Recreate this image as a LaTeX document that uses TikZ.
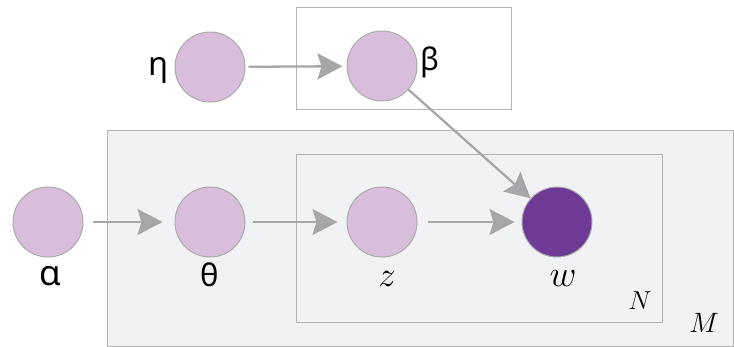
\documentclass[tikz,border=0pt]{standalone}
\usepackage{fix-cm}
\usepackage{fontspec}
\newfontfamily\greekfont{Noto Sans}
\usetikzlibrary{arrows.meta}
\definecolor{latentfill}{HTML}{D9BEDB}
\definecolor{observedfill}{HTML}{6E3A96}
\definecolor{nodeedge}{HTML}{AAAAAA}
\definecolor{edgegray}{HTML}{A7A7A9}
\definecolor{platefill}{HTML}{F1F2F4}
\definecolor{plateedge}{HTML}{B4B4B4}
\tikzset{
  latent/.style={circle, draw=nodeedge, line width=1pt, fill=latentfill, minimum size=70pt, inner sep=0pt},
  observed/.style={latent, fill=observedfill},
  plate/.style={draw=plateedge, line width=1pt},
  edge/.style={draw=edgegray, line width=2.3pt, -{Stealth[length=25pt, width=26pt, inset=4pt]}},
  glabel/.style={font=\greekfont\fontsize{31}{33}\selectfont, inner sep=0pt},
  vlabel/.style={font=\fontsize{35}{37}\selectfont, inner sep=0pt},
}
\begin{document}
\begin{tikzpicture}[x=1pt, y=-1pt]
  \useasboundingbox (0,0) rectangle (734,346);
  % plates
  \path[plate, fill=platefill] (107,130) rectangle (733,346);
  \path[plate] (296,7) rectangle (511,109);
  \path[plate] (296,154) rectangle (662,322);
  % variables
  \node[latent] (eta) at (210,67) {};
  \node[latent] (beta) at (382,66) {};
  \node[latent] (alpha) at (48,222) {};
  \node[latent] (theta) at (210,222) {};
  \node[latent] (z) at (382,222) {};
  \node[observed] (w) at (557,222) {};
  % labels
  \node[glabel, font=\greekfont\fontsize{33}{35}\selectfont] (leta) at (159,70) {η};
  \node[glabel] (lbeta) at (430,62) {β};
  \node[glabel, font=\greekfont\fontsize{35}{37}\selectfont] (lalpha) at (50,276) {α};
  \node[glabel] (ltheta) at (210,275) {θ};
  \node[vlabel] (lz) at (387,279) {$z$};
  \node[vlabel, font=\fontsize{37}{39}\selectfont] (lw) at (563,279) {$w$};
  \node[vlabel, font=\fontsize{26}{28}\selectfont] (lN) at (640,301) {$N$};
  \node[vlabel, font=\fontsize{28}{30}\selectfont] (lM) at (704,323) {$M$};
  % dependencies
  \draw[edge, shorten <=3pt, shorten >=4pt] (eta) -- (beta);
  \draw[edge, shorten <=9pt, shorten >=12pt] (alpha) -- (theta);
  \draw[edge, shorten <=7pt, shorten >=9pt] (theta) -- (z);
  \draw[edge, shorten <=10pt, shorten >=7pt] (z) -- (w);
  \draw[edge, shorten <=0pt, shorten >=0pt] (beta) -- (w);
\end{tikzpicture}
\end{document}
